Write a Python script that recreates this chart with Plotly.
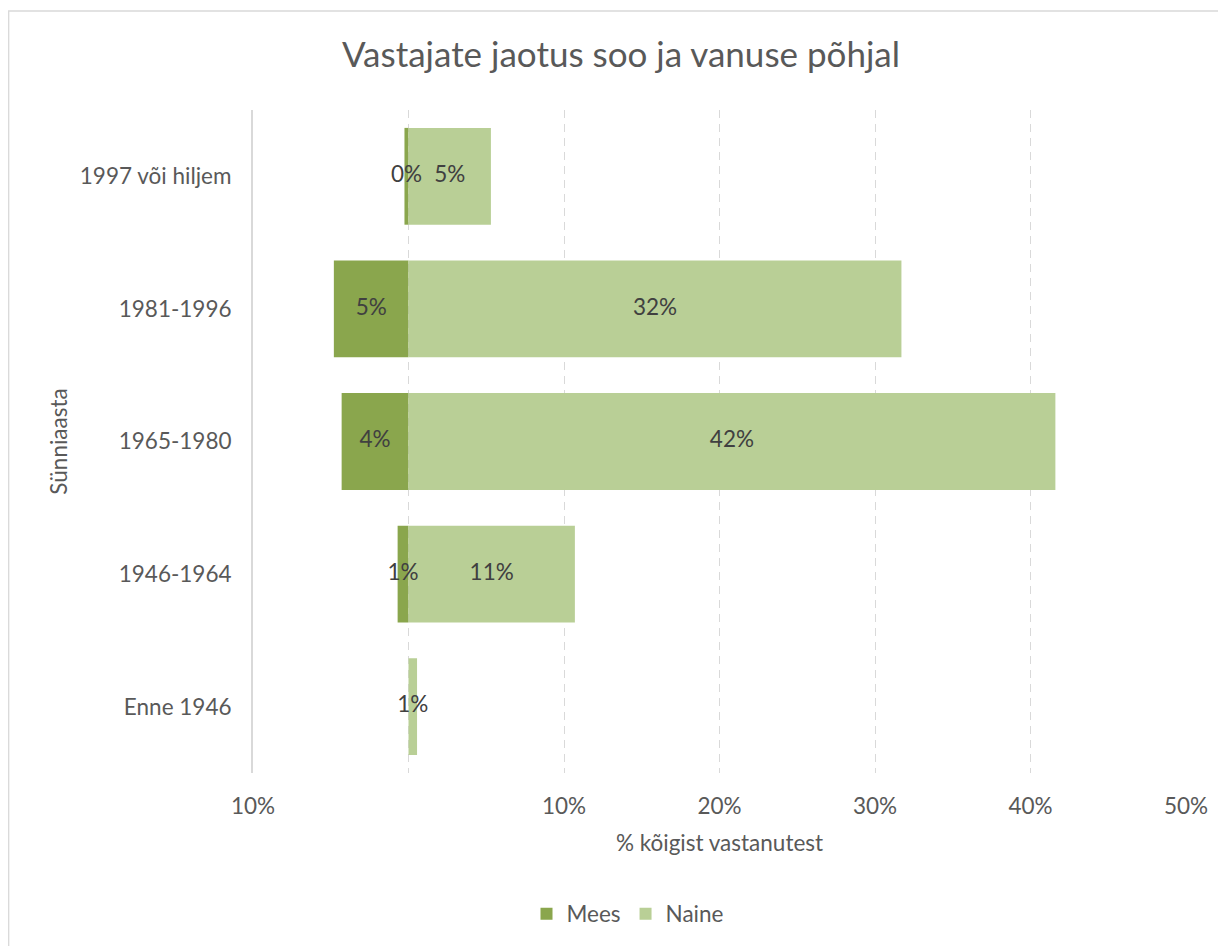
import plotly.graph_objects as go

categories = ["1997 või hiljem", "1981-1996", "1965-1980", "1946-1964", "Enne 1946"]
mees = [0.26, 4.8, 4.3, 0.7, 0.0]
naine = [5.3, 31.7, 41.6, 10.7, 0.55]
tick_vals = [-10, 0, 10, 20, 30, 40, 50]
tick_text = ["10%", "", "10%", "20%", "30%", "40%", "50%"]

MEES_C = "#8AA64D"
NAINE_C = "#B9CF96"
FONT = "Lato"
TXT = "#595959"
FS = 22.5

mees_text = [f"{v:.0f}%" if v > 0 else "" for v in mees]
naine_text = [f"{v:.0f}%" if v > 0 else "" for v in naine]

fig = go.Figure()
fig.add_trace(go.Bar(
    y=categories, x=[-v for v in mees], orientation="h", name="Mees",
    marker=dict(color=MEES_C, line=dict(width=0)), hoverinfo="skip",
))
fig.add_trace(go.Bar(
    y=categories, x=naine, orientation="h", name="Naine",
    marker=dict(color=NAINE_C, line=dict(width=0)), hoverinfo="skip",
))
# data labels, centred on each bar segment
fig.add_trace(go.Scatter(
    y=categories + categories,
    x=[-v / 2 for v in mees] + [v / 2 for v in naine],
    text=mees_text + naine_text, mode="text", textposition="middle center",
    textfont=dict(family=FONT, size=FS, color="#404040"),
    showlegend=False, hoverinfo="skip", cliponaxis=False,
))

# page body has an 8px margin, so the figure is laid out 8px smaller
W, H = 1218, 938
L, R, T, B = 245, 40, 102, 173
pw, ph = W - L - R, H - T - B

def px(xs):
    return (xs - 8 - L) / pw

def py(ys):
    return (H - B - (ys - 8)) / ph

fig.update_layout(
    width=W, height=H,
    margin=dict(l=L, r=R, t=T, b=B, autoexpand=False),
    paper_bgcolor="white", plot_bgcolor="white",
    barmode="relative", bargap=0.27,
    font=dict(family=FONT, size=FS, color=TXT),
    title=dict(text="Vastajate jaotus soo ja vanuse põhjal",
               x=(621 - 8) / W, xref="container", xanchor="center",
               y=1 - (55 - 8) / H, yref="container", yanchor="middle",
               font=dict(family=FONT, size=35, color=TXT)),
    xaxis=dict(range=[-10, 50], tickvals=tick_vals, ticktext=tick_text,
               showgrid=True, gridcolor="#D9D9D9", griddash="8px,6px", gridwidth=1.3,
               zeroline=False, showline=False, ticks="", automargin=False,
               ticklabelstandoff=17, tickangle=0,
               tickfont=dict(family=FONT, size=FS, color=TXT),
               title=dict(text="% kõigist vastanutest", standoff=17,
                          font=dict(family=FONT, size=FS, color=TXT)),
               fixedrange=True),
    yaxis=dict(categoryorder="array", categoryarray=categories[::-1],
               showgrid=False, showline=True, linecolor="#D9D9D9", linewidth=2,
               ticks="", ticklabelstandoff=15, automargin=False,
               tickfont=dict(family=FONT, size=FS, color=TXT),
               title=dict(text="Sünniaasta", standoff=6,
                          font=dict(family=FONT, size=FS, color=TXT)),
               fixedrange=True),
    legend=dict(orientation="h", x=px(628), xanchor="center",
                y=py(914), yanchor="middle",
                font=dict(family=FONT, size=FS, color=TXT), traceorder="normal",
                itemwidth=30),
    showlegend=True,
    shapes=[dict(type="rect", xref="paper", yref="paper",
                 x0=px(8.7), x1=px(1240), y0=py(960), y1=py(11),
                 line=dict(color="#D9D9D9", width=1.3), fillcolor="rgba(0,0,0,0)",
                 layer="below")],
)

fig.write_html("out.html")
